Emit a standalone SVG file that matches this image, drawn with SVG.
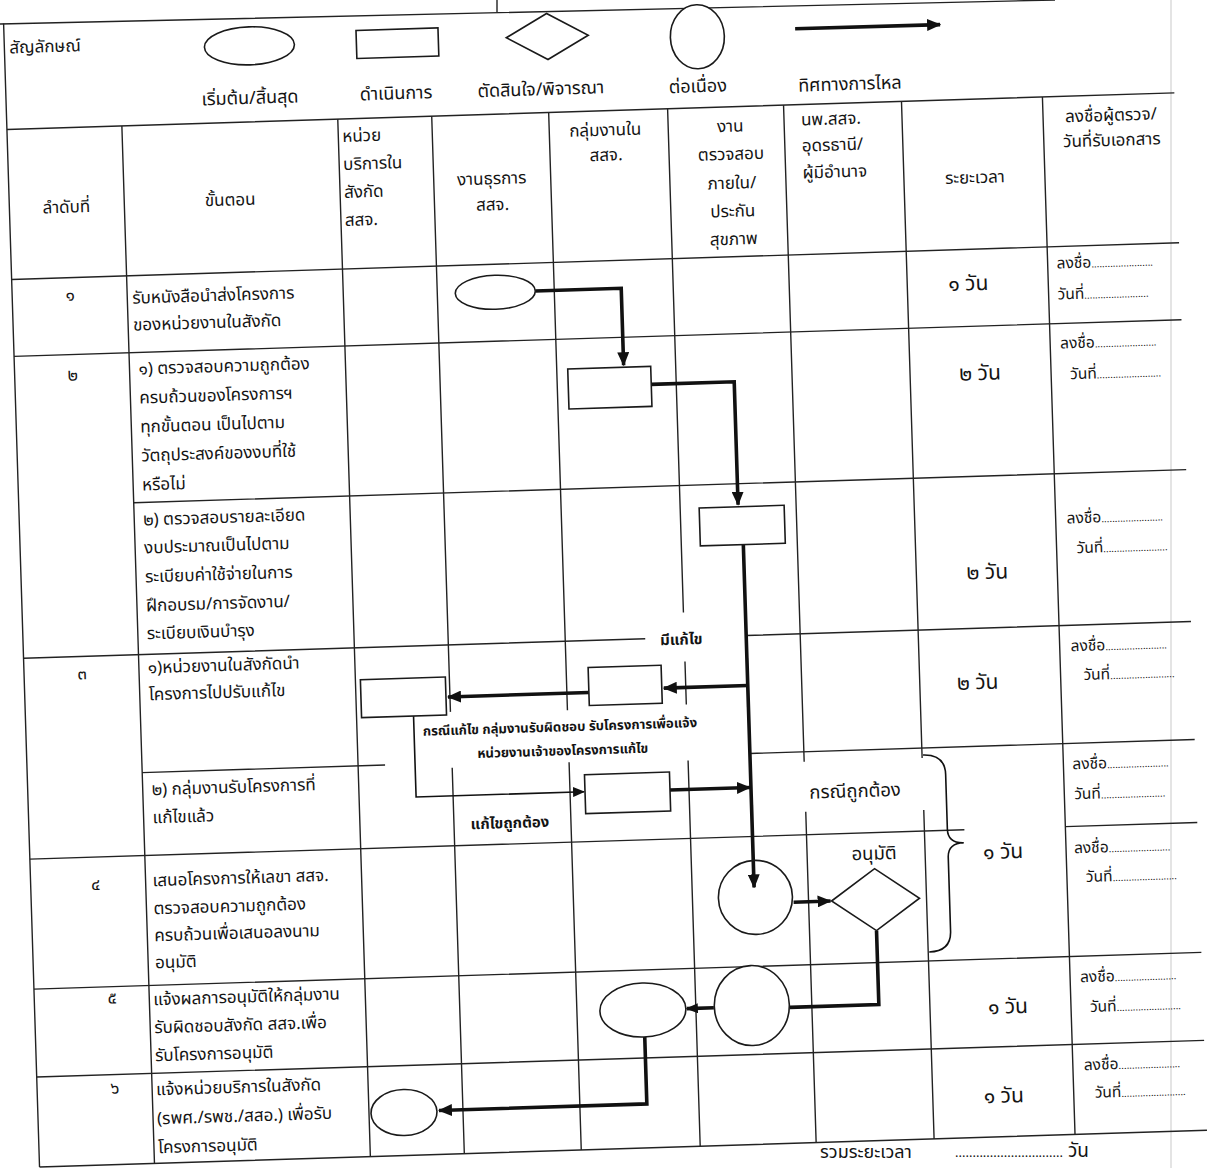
<svg xmlns="http://www.w3.org/2000/svg" width="1208" height="1168" viewBox="0 0 1208 1168">
<defs>
<style>
.t{font-family:'Noto Sans Thai','Noto Sans','DejaVu Sans',sans-serif;font-size:17px;fill:#141414}
.m{text-anchor:middle}
.lg{font-size:18px}
.d{font-size:21px}
.s{font-size:15.5px}
.dots{font-size:10px}
.b{font-weight:bold;font-size:15px}
.bs{font-weight:bold;font-size:13.2px}
.l{font-size:18.5px}
.g{stroke:#222;stroke-width:1.4;fill:none}
.sh{fill:#fff;stroke:#1a1a1a;stroke-width:1.6}
.k{stroke:#111;stroke-width:3.6;fill:none}
.n{stroke:#111;stroke-width:1.6;fill:none}
</style>
<marker id="ah" markerUnits="userSpaceOnUse" markerWidth="14" markerHeight="12" refX="13" refY="6" orient="auto"><path d="M0,0 L14,6 L0,12 z" fill="#111"/></marker>
<marker id="as" markerUnits="userSpaceOnUse" markerWidth="12" markerHeight="10" refX="11" refY="5" orient="auto"><path d="M0,0 L12,5 L0,10 z" fill="#111"/></marker>
</defs>
<rect x="0" y="0" width="1208" height="1168" fill="#fff"/>
<line x1="1171" y1="0" x2="1171" y2="1168" stroke="#e4e4e4" stroke-width="2"/>
<path class="g" d="M0,24 L1055,0 M497,0 L497,12"/>
<g transform="rotate(-1.8 604 600)">
<g id="grid">
<path class="g" d="M22,5 V1149 M137,111 V1149 M353,111 V1149 M447,111 V707 M447,763 V1149 M564,111 V709 M564,761 V1149 M683,111 V615 M683,664 V707 M683,763 V1149 M799,111 V768 M799,818 V1149 M917,111 V768 M917,820 V1149 M1058,111 V1149"/>
<path class="g" d="M22,111 H1190 M22,261 H1190 M22,338 H1190 M137,488 H1190 M22,640 H644 M745,640 H1190 M137,758 H380 M745,758 H1190 M22,841 H957 M1058,841 H1190 M22,971 H1190 M22,1059 H1190 M22,1149 H1190"/>
<path class="n" d="M918,765 Q940,765 940,785 L940,840 Q940,854 956,854 Q940,854 940,868 L940,942 Q940,962 918,962"/>
</g>
<g id="legend">
<text class="t" x="27" y="35">สัญลักษณ์</text>
<g id="lg-start"><ellipse class="sh" cx="267" cy="35" rx="45" ry="19"/><text class="t lg m" x="266" y="93">เริ่มต้น/สิ้นสุด</text></g>
<g id="lg-process"><rect class="sh" x="374" y="23" width="82" height="28"/><text class="t lg m" x="412" y="93">ดำเนินการ</text></g>
<g id="lg-decision"><polygon class="sh" points="524,35 565,12 606,35 565,58"/><text class="t lg m" x="557" y="93.5">ตัดสินใจ/พิจารณา</text></g>
<g id="lg-connector"><ellipse class="sh" cx="715" cy="40" rx="27" ry="32"/><text class="t lg m" x="714" y="95.5">ต่อเนื่อง</text></g>
<g id="lg-flow"><line class="k" x1="813" y1="35" x2="958" y2="35.5" marker-end="url(#ah)"/><text class="t lg m" x="866" y="98">ทิศทางการไหล</text></g>
</g>
<g id="header">
<text class="t m" x="79" y="196">ลำดับที่</text>
<text class="t m" x="243" y="194">ขั้นตอน</text>
<text class="t" x="357" y="134">หน่วย</text><text class="t" x="357" y="162">บริการใน</text><text class="t" x="357" y="190">สังกัด</text><text class="t" x="357" y="218">สสจ.</text>
<text class="t m" x="505" y="181">งานธุรการ</text><text class="t m" x="505" y="207">สสจ.</text>
<text class="t m" x="620" y="136">กลุ่มงานใน</text><text class="t m" x="620" y="161">สสจ.</text>
<text class="t m" x="745" y="136">งาน</text><text class="t m" x="745" y="164">ตรวจสอบ</text><text class="t m" x="745" y="193">ภายใน/</text><text class="t m" x="745" y="221">ประกัน</text><text class="t m" x="745" y="249">สุขภาพ</text>
<text class="t" x="816" y="132">นพ.สสจ.</text><text class="t" x="816" y="158">อุดรธานี/</text><text class="t" x="816" y="185">ผู้มีอำนาจ</text>
<text class="t m" x="988" y="195">ระยะเวลา</text>
<text class="t m" x="1126" y="137">ลงชื่อผู้ตรวจ/</text><text class="t m" x="1126" y="162">วันที่รับเอกสาร</text>
</g>
<g id="steps">
<text class="t m" x="80" y="284">๑</text>
<text class="t" x="142" y="289">รับหนังสือนำส่งโครงการ</text><text class="t" x="142" y="316">ของหน่วยงานในสังกัด</text>
<text class="t m" x="80" y="364">๒</text>
<text class="t" x="146" y="360">๑) ตรวจสอบความถูกต้อง</text><text class="t" x="146" y="389">ครบถ้วนของโครงการฯ</text><text class="t" x="146" y="418">ทุกขั้นตอน เป็นไปตาม</text><text class="t" x="146" y="447">วัตถุประสงค์ของงบที่ใช้</text><text class="t" x="146" y="476">หรือไม่</text>
<text class="t" x="146" y="511">๒) ตรวจสอบรายละเอียด</text><text class="t" x="146" y="539">งบประมาณเป็นไปตาม</text><text class="t" x="146" y="568">ระเบียบค่าใช้จ่ายในการ</text><text class="t" x="146" y="597">ฝึกอบรม/การจัดงาน/</text><text class="t" x="146" y="625">ระเบียบเงินบำรุง</text>
<text class="t m" x="80" y="663">๓</text>
<text class="t" x="146" y="659">๑)หน่วยงานในสังกัดนำ</text><text class="t" x="146" y="686">โครงการไปปรับแก้ไข</text>
<text class="t" x="146" y="781">๒) กลุ่มงานรับโครงการที่</text><text class="t" x="146" y="809">แก้ไขแล้ว</text>
<text class="t m" x="87" y="874">๔</text>
<text class="t" x="144" y="872">เสนอโครงการให้เลขา สสจ.</text><text class="t" x="144" y="900">ตรวจสอบความถูกต้อง</text><text class="t" x="144" y="927">ครบถ้วนเพื่อเสนอลงนาม</text><text class="t" x="144" y="954">อนุมัติ</text>
<text class="t m" x="100" y="988">๕</text>
<text class="t" x="141" y="991">แจ้งผลการอนุมัติให้กลุ่มงาน</text><text class="t" x="141" y="1019">รับผิดชอบสังกัด สสจ.เพื่อ</text><text class="t" x="141" y="1047">รับโครงการอนุมัติ</text>
<text class="t m" x="100" y="1078">๖</text>
<text class="t" x="141" y="1081">แจ้งหน่วยบริการในสังกัด</text><text class="t" x="141" y="1110">(รพศ./รพช./สสอ.) เพื่อรับ</text><text class="t" x="141" y="1139">โครงการอนุมัติ</text>
</g>
<g id="durations">
<text class="t d m" x="978" y="302">๑ วัน</text>
<text class="t d m" x="987" y="392">๒ วัน</text>
<text class="t d m" x="988" y="591">๒ วัน</text>
<text class="t d m" x="975" y="701">๒ วัน</text>
<text class="t d m" x="995" y="871">๑ วัน</text>
<text class="t d m" x="995" y="1026">๑ วัน</text>
<text class="t d m" x="988" y="1115">๑ วัน</text>
</g>
<g id="signatures">
<text class="t s" x="1067" y="283">ลงชื่อ<tspan class="dots">.......................</tspan></text><text class="t s" x="1067" y="314">วันที่<tspan class="dots">........................</tspan></text>
<text class="t s" x="1068" y="363">ลงชื่อ<tspan class="dots">.......................</tspan></text><text class="t s" x="1077" y="394">วันที่<tspan class="dots">........................</tspan></text>
<text class="t s" x="1069" y="538">ลงชื่อ<tspan class="dots">.......................</tspan></text><text class="t s" x="1078" y="568">วันที่<tspan class="dots">........................</tspan></text>
<text class="t s" x="1069" y="666">ลงชื่อ<tspan class="dots">.......................</tspan></text><text class="t s" x="1081" y="695">วันที่<tspan class="dots">........................</tspan></text>
<text class="t s" x="1067" y="784">ลงชื่อ<tspan class="dots">.......................</tspan></text><text class="t s" x="1068" y="814">วันที่<tspan class="dots">........................</tspan></text>
<text class="t s" x="1066" y="868">ลงชื่อ<tspan class="dots">.......................</tspan></text><text class="t s" x="1077" y="897">วันที่<tspan class="dots">........................</tspan></text>
<text class="t s" x="1068" y="997">ลงชื่อ<tspan class="dots">.......................</tspan></text><text class="t s" x="1077" y="1027">วันที่<tspan class="dots">........................</tspan></text>
<text class="t s" x="1069" y="1085">ลงชื่อ<tspan class="dots">.......................</tspan></text><text class="t s" x="1079" y="1113">วันที่<tspan class="dots">........................</tspan></text>
</g>
<g id="connectors">
<path class="k" d="M545,289 H631 V366" marker-end="url(#ah)"/>
<path class="k" d="M658,386 H741 V509" marker-end="url(#ah)"/>
<path class="k" d="M745,549 V892" marker-end="url(#ah)"/>
<path class="k" d="M745,690 H661" marker-end="url(#ah)"/>
<path class="k" d="M586,692 H445" marker-end="url(#ah)"/>
<path class="n" d="M410,710 V791 H578" marker-end="url(#as)"/>
<path class="k" d="M664,792 H744" marker-end="url(#ah)"/>
<path class="k" d="M784,908 H821" marker-end="url(#ah)"/>
<path class="k" d="M866,939 V1013 H777"/>
<path class="k" d="M701,1011 H674" marker-end="url(#as)"/>
<path class="k" d="M631,1038 V1105 H423" marker-end="url(#ah)"/>
</g>
<g id="labels">
<text class="t b m" x="680" y="647">มีแก้ไข</text>
<text class="t bs m" x="556" y="730">กรณีแก้ไข กลุ่มงานรับผิดชอบ  รับโครงการเพื่อแจ้ง</text>
<text class="t bs m" x="558" y="754">หน่วยงานเจ้าของโครงการแก้ไข</text>
<text class="t b m" x="503" y="825">แก้ไขถูกต้อง</text>
<text class="t l m" x="849" y="805">กรณีถูกต้อง</text>
<text class="t l m" x="866" y="868">อนุมัติ</text>
</g>
<g id="n-start"><ellipse class="sh" cx="505" cy="289" rx="40" ry="17"/></g>
<g id="n-check1"><rect class="sh" x="575" y="368" width="83" height="40"/></g>
<g id="n-check2"><rect class="sh" x="702" y="511" width="85" height="38"/></g>
<g id="n-return"><rect class="sh" x="586" y="667" width="73" height="38"/></g>
<g id="n-unit-fix"><rect class="sh" x="358" y="672" width="85" height="38"/></g>
<g id="n-receive"><rect class="sh" x="579" y="774" width="85" height="39"/></g>
<g id="n-connect1"><circle class="sh" cx="746" cy="902" r="37" fill-opacity="0"/></g>
<g id="n-approve"><polygon class="sh" points="822,908 866,877 910,908 866,939"/></g>
<g id="n-connect2"><ellipse class="sh" cx="739" cy="1010" rx="37.5" ry="40"/></g>
<g id="n-notify"><ellipse class="sh" cx="630" cy="1011" rx="43" ry="27"/></g>
<g id="n-end"><ellipse class="sh" cx="388" cy="1106" rx="33" ry="23"/></g>
</g>
<g id="footer">
<text class="t" x="820" y="1158" style="font-size:18px">รวมระยะเวลา</text>
<text class="t" x="955" y="1157" style="font-size:13px">...............................</text>
<text class="t" x="1068" y="1157" style="font-size:19px">วัน</text>
</g>
</svg>
